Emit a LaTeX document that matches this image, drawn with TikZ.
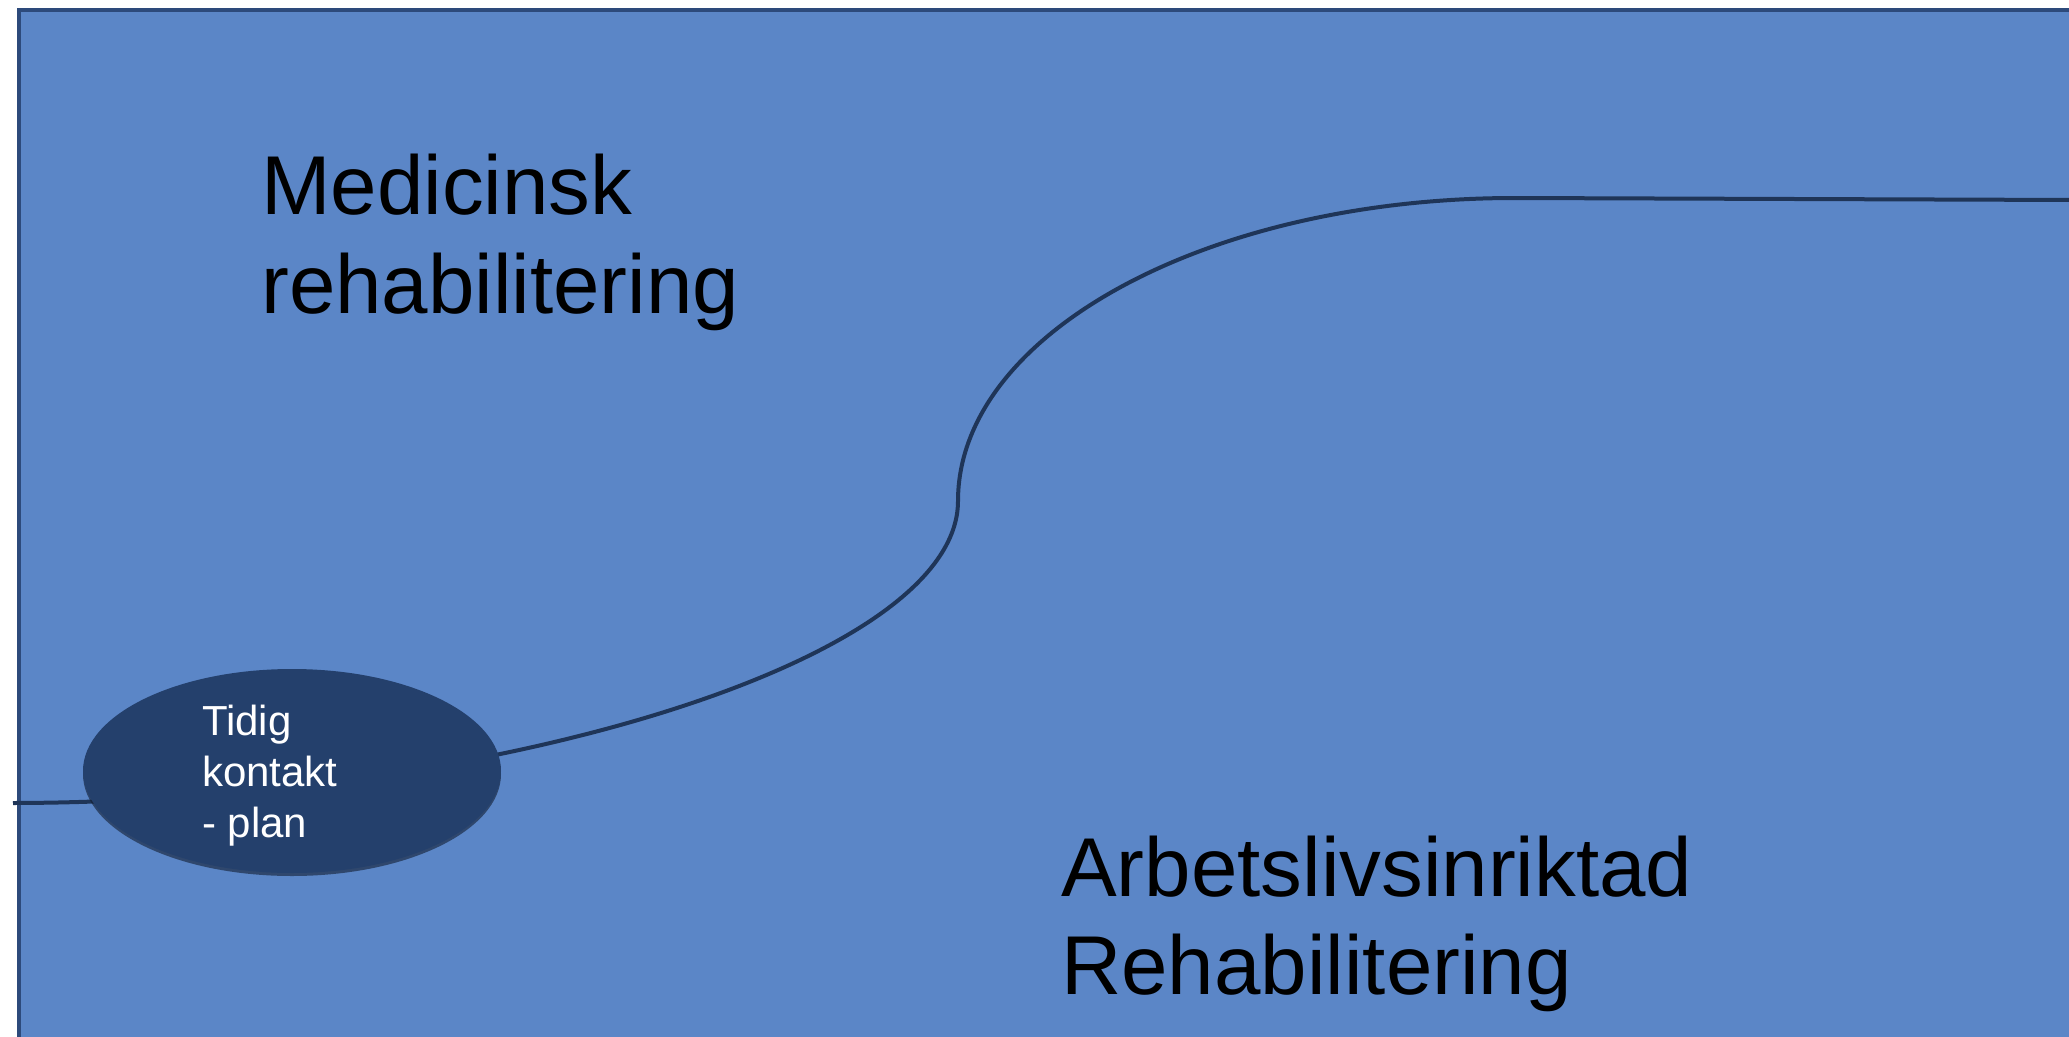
\documentclass[tikz,border=0pt]{standalone}
\usepackage{fontspec}
\setmainfont{Liberation Sans}
\usetikzlibrary{shapes.geometric}
\definecolor{bgblue}{HTML}{5B86C7}
\definecolor{frameblue}{HTML}{2D4A7B}
\definecolor{ellblue}{HTML}{24406C}
\definecolor{curveblue}{HTML}{1F3558}
\tikzset{
  bigtext/.style={anchor=base west, inner sep=0pt, text=black, font=\fontsize{83.5}{99}\selectfont},
  smalltext/.style={anchor=base west, inner sep=0pt, text=white, font=\fontsize{42}{51}\selectfont},
  bubble/.style={ellipse, fill=ellblue, minimum width=418pt, minimum height=204pt, inner sep=0pt},
  pathline/.style={draw=curveblue, line width=4pt},
}
\begin{document}
\begin{tikzpicture}[x=1pt,y=-1pt]
\useasboundingbox (0,0) rectangle (2069,1036);
\clip (0,0) rectangle (2069,1036);
% background panel
\fill[white] (0,0) rectangle (2069,1036);
\draw[fill=bgblue, draw=frameblue, line width=4pt] (19,10) rectangle (2090,1060);
% coordinates of the curve
\coordinate (start) at (13,803);
\coordinate (mid) at (958,501);
\coordinate (top) at (1515,198);
\coordinate (end) at (2075,200);
\draw[pathline] (start) .. controls (490,802) and (958,662) .. (mid)
  .. controls (958,334) and (1207,198) .. (top) -- (end);
% ellipse with shadow
\fill[black!60!frameblue, opacity=0.6] (292,774) ellipse (209pt and 102pt);
\node[bubble] (tidig) at (292,771) {};
\node[smalltext] (t1) at (202,735) {Tidig};
\node[smalltext] (t2) at (202,786) {kontakt};
\node[smalltext] (t3) at (202,837) {- plan};
% labels
\node[bigtext] (med1) at (261,214) {Medicinsk};
\node[bigtext] (med2) at (261,313) {rehabilitering};
\node[bigtext] (arb1) at (1061,896) {Arbetslivsinriktad};
\node[bigtext] (arb2) at (1061,994) {Rehabilitering};
\end{tikzpicture}
\end{document}
